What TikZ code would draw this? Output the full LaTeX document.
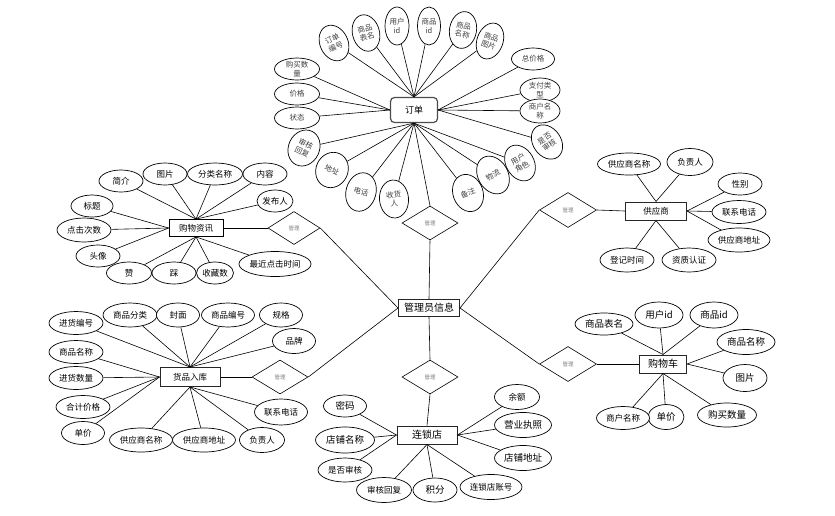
\documentclass[tikz,border=0pt]{standalone}
\usepackage{fontspec}
\newfontfamily\cjk{Noto Sans CJK SC}
\usetikzlibrary{shapes.geometric}
\begin{document}
\begin{tikzpicture}[x=1pt,y=-1pt,
  attr/.style={ellipse,draw,line width=0.7pt,inner sep=0pt,align=center,font=\cjk\fontsize{8.5}{9}\selectfont,fill=white},
  oattr/.style={attr,font=\cjk\fontsize{7.5}{8.5}\selectfont,text=black!75},
  ent/.style={rectangle,draw=black!85,line width=1pt,inner sep=0pt,font=\cjk\fontsize{9}{10}\selectfont,fill=white},
  rel/.style={diamond,draw,line width=0.6pt,inner sep=0pt,font=\cjk\fontsize{5.5}{6}\selectfont,text=black!50,fill=white},
  ln/.style={line width=0.6pt}]
\useasboundingbox (0,0) rectangle (835,515);

% ===== central =====
\node[ent,minimum width=61,minimum height=17,font=\cjk\fontsize{10}{11}\selectfont] (admin) at (429,308) {管理员信息};

% ===== order =====
\node[ent,rounded corners=4pt,draw=black!70,line width=1.2pt,minimum width=47,minimum height=25] (order) at (414,110) {订单};
\node[oattr,minimum width=28,minimum height=37,rotate=25] (o1) at (334,43) {订单\\编号};
\node[oattr,minimum width=27,minimum height=37,rotate=15] (o2) at (366,33) {商品\\表名};
\node[oattr,minimum width=24,minimum height=38] (o3) at (397,26) {用户\\id};
\node[oattr,minimum width=23,minimum height=38] (o4) at (429,26) {商品\\id};
\node[oattr,minimum width=27,minimum height=37,rotate=-10] (o5) at (463,30) {商品\\名称};
\node[oattr,minimum width=26,minimum height=37,rotate=-20] (o6) at (490,41) {商品\\图片};
\node[oattr,minimum width=43,minimum height=22] (o7) at (533,59) {总价格};
\node[oattr,minimum width=40,minimum height=24] (o8) at (540,90) {支付类\\型};
\node[oattr,minimum width=40,minimum height=24] (o9) at (540,111) {商户名\\称};
\node[oattr,minimum width=28,minimum height=37,rotate=35] (o10) at (547,142) {是否\\审核};
\node[oattr,minimum width=28,minimum height=38,rotate=30] (o11) at (520,163) {用户\\角色};
\node[oattr,minimum width=30,minimum height=40,rotate=30] (o12) at (493,175) {物流};
\node[oattr,minimum width=30,minimum height=38,rotate=20] (o13) at (468,193) {备注};
\node[oattr,minimum width=29,minimum height=38,rotate=5] (o14) at (394,199) {收货\\人};
\node[oattr,minimum width=30,minimum height=39,rotate=-15] (o15) at (361,192) {电话};
\node[oattr,minimum width=32,minimum height=36,rotate=-25] (o16) at (332,170) {地址};
\node[oattr,minimum width=31,minimum height=37,rotate=-25] (o17) at (304,148) {审核\\回复};
\node[oattr,minimum width=45,minimum height=22] (o18) at (297,69) {购买数\\量};
\node[oattr,minimum width=45,minimum height=22] (o19) at (297,94) {价格};
\node[oattr,minimum width=45,minimum height=22] (o20) at (297,118) {状态};
\foreach \n in {o1,o2,o3,o4,o5,o6} \draw[ln] (\n) -- (order.north);
\foreach \n in {o7,o8,o9,o10} \draw[ln] (\n) -- (order.east);
\foreach \n in {o11,o12,o13,o14,o15,o16,o17} \draw[ln] (\n) -- (order.south);
\foreach \n in {o18,o19,o20} \draw[ln] (\n) -- (order.west);

\node[rel,minimum width=56,minimum height=34] (r1) at (430,223) {管理};
\draw[ln] (order.south) -- (r1.north);
\draw[ln] (r1.south) -- (admin.north);

% ===== news =====
\node[ent,draw=black,line width=0.8pt,minimum width=54,minimum height=17,font=\cjk\fontsize{8.5}{9}\selectfont] (nb) at (196,228) {购物资讯};
\node[attr,minimum width=44,minimum height=22] (n1) at (121,181) {简介};
\node[attr,minimum width=44,minimum height=22] (n2) at (165,174) {图片};
\node[attr,minimum width=55,minimum height=22] (n3) at (215,174) {分类名称};
\node[attr,minimum width=44,minimum height=22] (n4) at (265,174) {内容};
\node[attr,minimum width=35,minimum height=22] (n5) at (275,201) {发布人};
\node[attr,minimum width=42,minimum height=22] (n6) at (92,206) {标题};
\node[attr,minimum width=54,minimum height=24] (n7) at (84,230) {点击次数};
\node[attr,minimum width=44,minimum height=22] (n8) at (98,256) {头像};
\node[attr,minimum width=45,minimum height=22] (n9) at (129,273) {赞};
\node[attr,minimum width=44,minimum height=22] (n10) at (174,273) {踩};
\node[attr,minimum width=37,minimum height=22] (n11) at (215,273) {收藏数};
\node[attr,minimum width=70,minimum height=25] (n12) at (275,264) {最近点击时间};
\foreach \n in {n1,n2,n3,n4,n5} \draw[ln] (\n) -- (nb.north);
\foreach \n in {n6,n7,n8} \draw[ln] (\n) -- (nb.west);
\foreach \n in {n9,n10,n11,n12} \draw[ln] (\n) -- (nb.south);
\node[rel,minimum width=52,minimum height=33] (r2) at (294,228) {管理};
\draw[ln] (nb.east) -- (r2.west);
\draw[ln] (r2.east) -- (admin.west);

% ===== supplier =====
\node[ent,minimum width=61,minimum height=18,font=\cjk\fontsize{8.5}{9}\selectfont] (sb) at (656,211) {供应商};
\node[attr,minimum width=63,minimum height=22] (s1) at (629,164) {供应商名称};
\node[attr,minimum width=46,minimum height=27] (s2) at (690,162) {负责人};
\node[attr,minimum width=44,minimum height=22] (s3) at (740,184) {性别};
\node[attr,minimum width=54,minimum height=23] (s4) at (739,212) {联系电话};
\node[attr,minimum width=62,minimum height=24] (s5) at (739,240) {供应商地址};
\node[attr,minimum width=54,minimum height=24] (s6) at (627,260) {登记时间};
\node[attr,minimum width=54,minimum height=24] (s7) at (689,260) {资质认证};
\foreach \n in {s1,s2} \draw[ln] (\n) -- (sb.north);
\foreach \n in {s3,s4,s5} \draw[ln] (\n) -- (sb.east);
\foreach \n in {s6,s7} \draw[ln] (\n) -- (sb.south);
\node[rel,minimum width=57,minimum height=35] (r3) at (568,210) {管理};
\draw[ln] (r3.east) -- (sb.west);
\draw[ln] (r3.west) -- (admin.east);

% ===== goods storage =====
\node[ent,minimum width=60,minimum height=19,font=\cjk\fontsize{8.5}{9}\selectfont] (gb) at (190,377) {货品入库};
\node[attr,minimum width=54,minimum height=23] (g1) at (76,323) {进货编号};
\node[attr,minimum width=54,minimum height=24] (g2) at (130,315) {商品分类};
\node[attr,minimum width=43,minimum height=24] (g3) at (178,315) {封面};
\node[attr,minimum width=53,minimum height=24] (g4) at (228,315) {商品编号};
\node[attr,minimum width=43,minimum height=24] (g5) at (281,315) {规格};
\node[attr,minimum width=43,minimum height=25] (g6) at (294,341) {品牌};
\node[attr,minimum width=54,minimum height=23] (g7) at (76,352) {商品名称};
\node[attr,minimum width=54,minimum height=23] (g8) at (76,378) {进货数量};
\node[attr,minimum width=54,minimum height=23] (g9) at (83,407) {合计价格};
\node[attr,minimum width=43,minimum height=23] (g10) at (83,433) {单价};
\node[attr,minimum width=63,minimum height=24] (g11) at (141,440) {供应商名称};
\node[attr,minimum width=63,minimum height=24] (g12) at (204,440) {供应商地址};
\node[attr,minimum width=45,minimum height=25] (g13) at (262,440) {负责人};
\node[attr,minimum width=53,minimum height=26] (g14) at (281,412) {联系电话};
\foreach \n in {g1,g2,g3,g4,g5,g6} \draw[ln] (\n) -- (gb.north);
\foreach \n in {g7,g8,g9,g10} \draw[ln] (\n) -- (gb.west);
\foreach \n in {g11,g12,g13,g14} \draw[ln] (\n) -- (gb.south);
\node[rel,minimum width=56,minimum height=34] (r4) at (280,377) {管理};
\draw[ln] (gb.east) -- (r4.west);
\draw[ln] (r4.east) -- (admin.west);

% ===== chain store =====
\node[ent,minimum width=60,minimum height=18,font=\cjk\fontsize{10}{11}\selectfont] (cb) at (427,435) {连锁店};
\node[attr,minimum width=43,minimum height=22,font=\cjk\fontsize{9.5}{10}\selectfont] (c1) at (345,406) {密码};
\node[attr,minimum width=59,minimum height=26,font=\cjk\fontsize{9.5}{10}\selectfont] (c2) at (345,440) {店铺名称};
\node[attr,minimum width=54,minimum height=24] (c3) at (345,470) {是否审核};
\node[attr,minimum width=55,minimum height=25] (c4) at (384,490) {审核回复};
\node[attr,minimum width=44,minimum height=24,font=\cjk\fontsize{9.5}{10}\selectfont] (c5) at (435,490) {积分};
\node[attr,minimum width=62,minimum height=25] (c6) at (491,487) {连锁店账号};
\node[attr,minimum width=45,minimum height=25] (c7) at (517,397) {余额};
\node[attr,minimum width=57,minimum height=25,font=\cjk\fontsize{9.5}{10}\selectfont] (c8) at (523,425) {营业执照};
\node[attr,minimum width=57,minimum height=25,font=\cjk\fontsize{9.5}{10}\selectfont] (c9) at (523,458) {店铺地址};
\foreach \n in {c1,c2,c3} \draw[ln] (\n) -- (cb.west);
\foreach \n in {c4,c5,c6} \draw[ln] (\n) -- (cb.south);
\foreach \n in {c7,c8,c9} \draw[ln] (\n) -- (cb.east);
\node[rel,minimum width=56,minimum height=34] (r5) at (430,377) {管理};
\draw[ln] (admin.south) -- (r5.north);
\draw[ln] (r5.south) -- (cb.north);

% ===== cart =====
\node[ent,minimum width=47,minimum height=18,font=\cjk\fontsize{10}{11}\selectfont] (kb) at (663,364) {购物车};
\node[attr,minimum width=58,minimum height=22,font=\cjk\fontsize{9.5}{10}\selectfont] (k1) at (604,324) {商品表名};
\node[attr,minimum width=48,minimum height=26,font=\cjk\fontsize{9.5}{10}\selectfont] (k2) at (659,315) {用户id};
\node[attr,minimum width=48,minimum height=26,font=\cjk\fontsize{9.5}{10}\selectfont] (k3) at (714,315) {商品id};
\node[attr,minimum width=58,minimum height=25,font=\cjk\fontsize{9.5}{10}\selectfont] (k4) at (746,342) {商品名称};
\node[attr,minimum width=44,minimum height=27,font=\cjk\fontsize{9.5}{10}\selectfont] (k5) at (745,378) {图片};
\node[attr,minimum width=59,minimum height=24,font=\cjk\fontsize{9.5}{10}\selectfont] (k6) at (727,415) {购买数量};
\node[attr,minimum width=36,minimum height=25,font=\cjk\fontsize{9.5}{10}\selectfont] (k7) at (666,417) {单价};
\node[attr,minimum width=53,minimum height=23] (k8) at (623,418) {商户名称};
\foreach \n in {k1,k2,k3} \draw[ln] (\n) -- (kb.north);
\foreach \n in {k4,k5} \draw[ln] (\n) -- (kb.east);
\foreach \n in {k6,k7,k8} \draw[ln] (\n) -- (kb.south);
\node[rel,minimum width=57,minimum height=35] (r6) at (568,364) {管理};
\draw[ln] (r6.east) -- (kb.west);
\draw[ln] (r6.west) -- (admin.east);
\end{tikzpicture}
\end{document}
